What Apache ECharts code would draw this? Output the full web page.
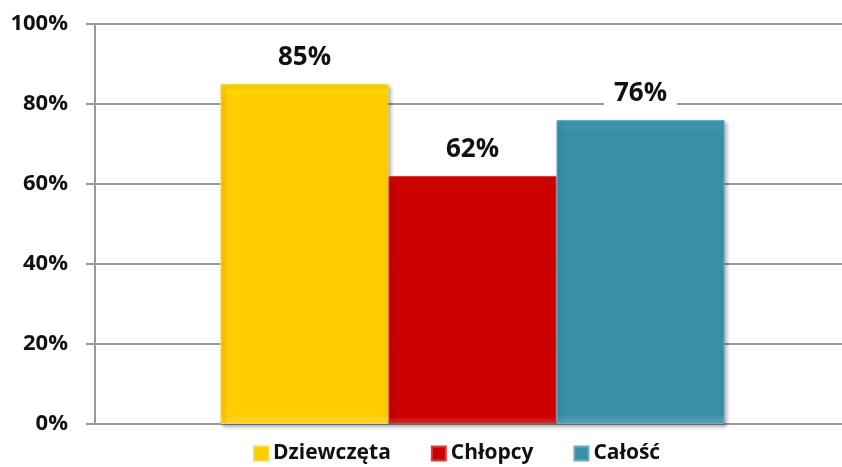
<!DOCTYPE html>
<html><head><meta charset="utf-8">
<script src="https://cdn.jsdelivr.net/npm/echarts@6/dist/echarts.min.js"></script>
<style>html,body{margin:0;padding:0;background:#fff}#c{width:842px;height:467px}</style>
</head><body><div id="c"></div>
<script>
const categories = ['Wynik'];
const seriesNames = ['Dziewczęta', 'Chłopcy', 'Całość'];
const dziewczeta = [85];
const chlopcy = [62];
const calosc = [76];
const yTicks = [0, 20, 40, 60, 80, 100];

const colors = ['#FFCC00', '#CC0000', '#3A8FA8'];
const values = [dziewczeta, chlopcy, calosc];
const font = '"Open Sans", sans-serif';

const chart = echarts.init(document.getElementById('c'));
chart.setOption({
  animation: false,
  grid: { left: 95, width: 755, top: 24, bottom: 43, outerBoundsMode: 'none', containLabel: false },
  legend: {
    top: 438, left: 248, itemWidth: 14, itemHeight: 14, itemGap: 40,
    icon: 'rect',
    textStyle: { fontFamily: font, fontWeight: 'bold', fontSize: 21, color: '#111' },
    data: seriesNames
  },
  xAxis: {
    type: 'category', data: categories,
    axisLine: { lineStyle: { color: '#999', width: 2 } },
    axisTick: { show: false }, axisLabel: { show: false }
  },
  yAxis: {
    type: 'value', min: yTicks[0], max: yTicks[yTicks.length - 1], interval: 20,
    axisLine: { show: true, lineStyle: { color: '#999', width: 2 } },
    axisTick: { show: true, length: 9, lineStyle: { color: '#999', width: 2 } },
    splitLine: { lineStyle: { color: '#999', width: 2 } },
    axisLabel: { formatter: '{value}%', margin: 27, fontFamily: font, fontWeight: 'bold', fontSize: 22, color: '#111' }
  },
  series: seriesNames.map((n, i) => ({
    name: n, type: 'bar', data: values[i], barWidth: 168, barGap: '0%',
    itemStyle: {
      color: new echarts.graphic.LinearGradient(0, 0, 0, 1, [
        { offset: 0, color: echarts.color.lift(colors[i], -0.1) },
        { offset: 0.04, color: colors[i] },
        { offset: 0.97, color: colors[i] },
        { offset: 1, color: echarts.color.lift(colors[i], 0.2) }
      ]),
      borderColor: echarts.color.lift(colors[i], 0.25), borderWidth: 1,
      shadowColor: 'rgba(0,0,0,0.35)', shadowBlur: 4, shadowOffsetX: 2, shadowOffsetY: 2
    },
    label: {
      show: true, position: 'top', distance: 13, formatter: '{c}%',
      fontFamily: font, fontWeight: 'bold', fontSize: 26, color: '#111',
      backgroundColor: '#fff', padding: [0, 10]
    }
  }))
});
</script></body></html>
